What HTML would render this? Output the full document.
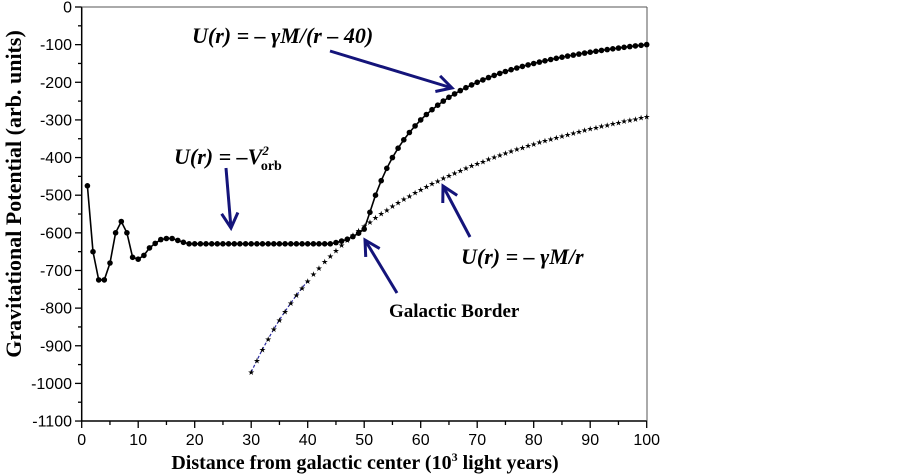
<!DOCTYPE html>
<html><head><meta charset="utf-8"><style>
html,body{margin:0;padding:0;background:#fff;}
svg{display:block;font-family:"Liberation Serif",serif;}
.tk{font-family:"Liberation Sans",sans-serif;font-size:16px;fill:#000;}
</style></head><body>
<svg id="s" width="902" height="474" viewBox="0 0 902 474" xmlns="http://www.w3.org/2000/svg">
<g id="g"></g>
<text x="21" y="194" transform="rotate(-90 21 194)" font-weight="bold" font-size="22" text-anchor="middle">Gravitational Potential (arb. units)</text>
<text x="365" y="469" font-weight="bold" font-size="20" text-anchor="middle">Distance from galactic center (10<tspan font-size="12" dy="-8">3</tspan><tspan dy="8"> light years)</tspan></text>
<text x="192" y="43" font-weight="bold" font-style="italic" font-size="22">U(r) = – γM/(r – 40)</text>
<text x="174" y="164" font-weight="bold" font-style="italic" font-size="22">U(r) = –V<tspan font-size="13" dy="-9">2</tspan><tspan font-size="14" dy="15" dx="-8" font-style="normal">orb</tspan></text>
<text x="389" y="317" font-weight="bold" font-size="19">Galactic Border</text>
<text x="461" y="264" font-weight="bold" font-style="italic" font-size="22">U(r) = – γM/r</text>
</svg>
<script>
var g=document.getElementById('g'),h='';
function X(r){return 81.7+5.65*r;}function Y(u){return 7+0.3764*(-u);}
h+='<line x1="81.7" y1="7" x2="81.7" y2="421" stroke="#000" stroke-width="1.5"/>';
h+='<line x1="81.7" y1="421" x2="647" y2="421" stroke="#000" stroke-width="1.5"/>';
h+='<line x1="81.7" y1="7" x2="647" y2="7" stroke="#555" stroke-width="1"/>';
h+='<line x1="647" y1="7" x2="647" y2="421" stroke="#555" stroke-width="1"/>';
for(var u=0;u<=1100;u+=50){var y=Y(-u),maj=u%100==0;h+='<line x1="'+(maj?75:78)+'" y1="'+y+'" x2="81.7" y2="'+y+'" stroke="#000" stroke-width="1.3"/>';
if(maj)h+='<text class="tk" x="72" y="'+(y+5.5)+'" text-anchor="end">'+(u==0?'0':'-'+u)+'</text>';}
for(var r=0;r<=100;r+=5){var x=X(r),maj=r%10==0;h+='<line x1="'+x+'" y1="421" x2="'+x+'" y2="'+(maj?428:425)+'" stroke="#000" stroke-width="1.3"/>';
if(maj)h+='<text class="tk" x="'+x+'" y="445" text-anchor="middle">'+r+'</text>';}
var d=[[1,-475],[2,-650],[3,-725],[4,-725],[5,-680],[6,-600],[7,-570],[8,-600],[9,-665],[10,-670],[11,-660],[12,-640],[13,-628],[14,-618],[15,-615],[16,-615],[17,-620],[18,-625]];
for(var r=19;r<=44;r++)d.push([r,-629]);
d.push([45,-626],[46,-622],[47,-617],[48,-610],[49,-601],[50,-590]);
for(var r=51;r<=100;r++)d.push([r,-6000/(r-40)]);
var p=d.map(function(a){return X(a[0]).toFixed(1)+','+Y(a[1]).toFixed(1)}).join(' ');
h+='<polyline points="'+p+'" fill="none" stroke="#000" stroke-width="1.6"/>';
d.forEach(function(a){h+='<circle cx="'+X(a[0]).toFixed(1)+'" cy="'+Y(a[1]).toFixed(1)+'" r="2.8" fill="#000"/>';});
var s=[];for(var r=30;r<=100;r++)s.push([r,-29100/r]);
var p2=s.filter(function(a){return a[0]<=40}).map(function(a){return X(a[0]).toFixed(1)+','+Y(a[1]).toFixed(1)}).join(' ');
h+='<polyline points="'+p2+'" fill="none" stroke="#2a2aa0" stroke-width="1.2" stroke-dasharray="3,2"/>';
s.forEach(function(a){h+='<text x="'+X(a[0]).toFixed(1)+'" y="'+(Y(a[1])+3).toFixed(1)+'" font-size="8" text-anchor="middle" font-family="DejaVu Sans">★</text>';});
function arr(x1,y1,x2,y2){var ang=Math.atan2(y2-y1,x2-x1),L=17,w=0.5;
h+='<line x1="'+x1+'" y1="'+y1+'" x2="'+x2+'" y2="'+y2+'" stroke="#14147a" stroke-width="3"/>';
h+='<polyline points="'+(x2-L*Math.cos(ang-w))+','+(y2-L*Math.sin(ang-w))+' '+x2+','+y2+' '+(x2-L*Math.cos(ang+w))+','+(y2-L*Math.sin(ang+w))+'" fill="none" stroke="#14147a" stroke-width="3"/>';}
arr(330,51,452,88);arr(226,168,231,228);arr(397,293,365,240);arr(470,237,443,186);
g.innerHTML=h;
</script>
</body></html>
